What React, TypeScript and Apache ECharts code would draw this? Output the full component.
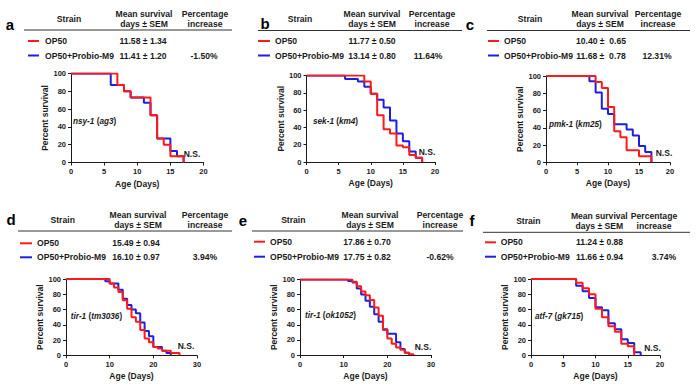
import React, { useEffect, useRef } from "react";
import * as echarts from "echarts";

// ---------- DATA ----------
const panelLetters = ["a", "b", "c", "d", "e", "f"];
const strainNames = ["OP50", "OP50+Probio-M9"];
const geneNames = ["nsy-1", "sek-1", "pmk-1", "tir-1", "tir-1", "atf-7"];
const alleleNames = ["ag3", "km4", "km25", "tm3036", "ok1052", "gk715"];
const meanOP50 = ["11.58 ± 1.34", "11.77 ± 0.50", "10.40 ±  0.65", "15.49 ± 0.94", "17.86 ± 0.70", "11.24 ± 0.88"];
const meanM9 = ["11.41 ± 1.20", "13.14 ± 0.80", "11.68 ±  0.78", "16.10 ± 0.97", "17.75 ± 0.82", "11.66 ± 0.94"];
const pctIncrease = ["-1.50%", "11.64%", "12.31%", "3.94%", "-0.62%", "3.74%"];
const significance = ["N.S.", "N.S.", "N.S.", "N.S.", "N.S.", "N.S."];
const xAxisMax = [20, 20, 20, 30, 30, 20];
const xAxisStep = [5, 5, 5, 10, 10, 5];
const yAxisMax = 100;
const yAxisStep = 20;

// Kaplan-Meier steps (day of change, percent survival)
const redA_day = [0, 7, 8, 9, 12, 13, 14, 15, 17];
const redA_pct = [100, 87, 80, 73, 53, 27, 20, 7, 0];
const blueA_day = [0, 6, 8, 9, 11, 12, 13, 15, 16, 17];
const blueA_pct = [100, 87, 80, 73, 67, 53, 27, 13, 7, 0];

const redB_day = [0, 9, 10, 11, 12, 13, 14, 15, 16, 17, 18];
const redB_pct = [100, 93, 79, 54, 38, 33, 19, 17, 8, 5, 0];
const blueB_day = [0, 6, 8, 9, 10, 11, 12, 13, 14, 15, 16, 17, 18];
const blueB_pct = [100, 96, 93, 87, 79, 72, 63, 48, 33, 24, 12, 5, 0];

const redC_day = [0, 8, 9, 10, 11, 12, 13, 15, 17];
const redC_pct = [100, 93, 86, 64, 36, 29, 14, 7, 0];
const blueC_day = [0, 7, 8, 9, 10, 11, 13, 14, 15, 16, 17];
const blueC_pct = [100, 94, 81, 62, 56, 44, 38, 31, 19, 12, 0];

const redD_day = [0, 10, 11, 12, 13, 14, 15, 16, 17, 18, 19, 20, 21, 22, 24, 26];
const redD_pct = [100, 94, 89, 83, 72, 61, 50, 44, 33, 22, 17, 11, 9, 6, 3, 0];
const blueD_day = [0, 9, 10, 12, 13, 14, 15, 16, 17, 18, 19, 20, 22, 23, 24];
const blueD_pct = [100, 97, 94, 86, 74, 66, 60, 55, 43, 32, 25, 11, 6, 3, 0];

const redE_day = [0, 12, 13, 14, 15, 16, 17, 18, 19, 20, 21, 22, 23, 24, 25, 26];
const redE_pct = [100, 97, 91, 84, 79, 73, 63, 52, 33, 22, 15, 10, 7, 3, 1, 0];
const blueE_day = [0, 11, 12, 13, 14, 15, 16, 17, 18, 19, 20, 22, 23, 24, 25];
const blueE_pct = [100, 98, 96, 88, 80, 72, 64, 54, 44, 34, 28, 17, 8, 3, 0];

const redF_day = [0, 7, 8, 9, 10, 11, 12, 13, 14, 15, 16];
const redF_pct = [100, 95, 88, 80, 61, 50, 38, 31, 15, 12, 0];
const blueF_day = [0, 7, 8, 9, 10, 11, 12, 13, 14, 15, 16, 17];
const blueF_pct = [100, 91, 84, 75, 63, 59, 42, 34, 21, 16, 4, 0];

const redDays = [redA_day, redB_day, redC_day, redD_day, redE_day, redF_day];
const redPcts = [redA_pct, redB_pct, redC_pct, redD_pct, redE_pct, redF_pct];
const blueDays = [blueA_day, blueB_day, blueC_day, blueD_day, blueE_day, blueF_day];
const bluePcts = [blueA_pct, blueB_pct, blueC_pct, blueD_pct, blueE_pct, blueF_pct];

// ---------- LAYOUT ----------
const RED = "#ff1a1a";
const BLUE = "#1f1fe0";
const FONT = "'Liberation Sans', Arial, sans-serif";
const TABLE_FS = 8.6;

type Lay = {
  grid: { left: number; top: number; width: number; height: number };
  letter: [number, number];
  strainX: number; meanX: number; pctX: number; hdrY: number;
  rule: [number, number, number];
  leg: [number, number]; nameX: number; row1: number; row2: number;
  valX: number; pctValX: number;
  gene: [number, number]; ns: [number, number]; yGap: number;
};

const LAYOUT: Lay[] = [
  { grid: { left: 71, top: 73.5, width: 132.5, height: 89 }, letter: [10, 24], strainX: 69, meanX: 144, pctX: 205, hdrY: 19, rule: [24, 232, 30], leg: [28, 39], nameX: 45, row1: 41, row2: 55.5, valX: 143, pctValX: 204, gene: [73, 121.5], ns: [192, 154], yGap: 21 },
  { grid: { left: 306.5, top: 75.5, width: 128.5, height: 86.5 }, letter: [265, 23], strainX: 300, meanX: 372, pctX: 432, hdrY: 19, rule: [258, 462, 30.5], leg: [258, 270], nameX: 275, row1: 41, row2: 55.5, valX: 372, pctValX: 428, gene: [313, 121.5], ns: [427, 152], yGap: 21 },
  { grid: { left: 546, top: 76, width: 124, height: 86.3 }, letter: [470, 24], strainX: 530, meanX: 600, pctX: 658, hdrY: 19, rule: [487, 690, 30.5], leg: [488, 499], nameX: 504, row1: 41, row2: 55.5, valX: 601, pctValX: 657, gene: [549, 124], ns: [664, 153], yGap: 21 },
  { grid: { left: 66, top: 279, width: 131, height: 76.3 }, letter: [11, 219], strainX: 62.7, meanX: 138, pctX: 205, hdrY: 220, rule: [18, 232, 231], leg: [20, 32], nameX: 37, row1: 243.3, row2: 257.3, valX: 136, pctValX: 205, gene: [70.7, 316.7], ns: [186, 345.7], yGap: 20 },
  { grid: { left: 300, top: 279.5, width: 131, height: 75.5 }, letter: [243, 220], strainX: 293.3, meanX: 370, pctX: 440, hdrY: 219.5, rule: [252, 463, 231], leg: [254, 265], nameX: 270, row1: 241.7, row2: 256.7, valX: 367, pctValX: 440, gene: [305, 315.7], ns: [423, 346.7], yGap: 20 },
  { grid: { left: 531, top: 279, width: 129, height: 76.3 }, letter: [472, 220], strainX: 528.3, meanX: 599.3, pctX: 654, hdrY: 220.5, rule: [483, 690, 232.3], leg: [485, 496], nameX: 500.7, row1: 242.3, row2: 256.7, valX: 599.5, pctValX: 664, gene: [535, 316.7], ns: [652.5, 347.7], yGap: 20 },
];

function txt(x: number, y: number, text: string, opts: any = {}) {
  return {
    type: "text",
    x,
    y,
    silent: true,
    style: {
      text,
      fill: "#1a1a1a",
      fontFamily: FONT,
      fontWeight: "bold",
      fontSize: TABLE_FS,
      align: "center",
      verticalAlign: "middle",
      ...opts,
    },
  };
}

function buildOption() {
  const grids: any[] = [];
  const xAxes: any[] = [];
  const yAxes: any[] = [];
  const series: any[] = [];
  const graphic: any[] = [];

  LAYOUT.forEach((L, i) => {
    grids.push({ ...L.grid, containLabel: false });
    const axisCommon = {
      axisLine: { show: true, lineStyle: { color: "#1a1a1a", width: 1 } },
      axisTick: { show: true, inside: false, length: 3, lineStyle: { color: "#1a1a1a", width: 1 } },
      splitLine: { show: false },
      nameTextStyle: { fontFamily: FONT, fontWeight: "bold", fontSize: 8.5, color: "#1a1a1a" },
      axisLabel: { fontFamily: FONT, fontWeight: "bold", fontSize: 7.5, color: "#1a1a1a" },
    };
    xAxes.push({
      ...axisCommon,
      gridIndex: i,
      type: "value",
      min: 0,
      max: xAxisMax[i],
      interval: xAxisStep[i],
      name: "Age (Days)",
      nameLocation: "middle",
      nameGap: 16.5,
      axisLabel: { ...axisCommon.axisLabel, margin: 5 },
    });
    yAxes.push({
      ...axisCommon,
      gridIndex: i,
      type: "value",
      min: 0,
      max: yAxisMax,
      interval: yAxisStep,
      name: "Percent survival",
      nameLocation: "middle",
      nameGap: L.yGap,
      axisLabel: { ...axisCommon.axisLabel, margin: 5 },
    });
    series.push({
      type: "line",
      name: strainNames[1],
      xAxisIndex: i,
      yAxisIndex: i,
      step: "end",
      symbol: "none",
      lineStyle: { color: BLUE, width: 2 },
      data: blueDays[i].map((d, k) => [d, bluePcts[i][k]]),
      z: 2,
    });
    series.push({
      type: "line",
      name: strainNames[0],
      xAxisIndex: i,
      yAxisIndex: i,
      step: "end",
      symbol: "none",
      lineStyle: { color: RED, width: 2 },
      data: redDays[i].map((d, k) => [d, redPcts[i][k]]),
      z: 3,
    });

    // table
    graphic.push(txt(L.letter[0], L.letter[1], panelLetters[i], { fontSize: 15, fill: "#000" }));
    graphic.push(txt(L.strainX, L.hdrY, "Strain"));
    graphic.push(txt(L.meanX, L.hdrY, "Mean survival\ndays ± SEM", { lineHeight: 10 }));
    graphic.push(txt(L.pctX, L.hdrY, "Percentage\nincrease", { lineHeight: 10 }));
    graphic.push({
      type: "line",
      silent: true,
      shape: { x1: L.rule[0], y1: L.rule[2], x2: L.rule[1], y2: L.rule[2] },
      style: { stroke: "#333", lineWidth: 1 },
    });
    graphic.push({
      type: "line",
      silent: true,
      shape: { x1: L.leg[0], y1: L.row1, x2: L.leg[1], y2: L.row1 },
      style: { stroke: RED, lineWidth: 2 },
    });
    graphic.push({
      type: "line",
      silent: true,
      shape: { x1: L.leg[0], y1: L.row2, x2: L.leg[1], y2: L.row2 },
      style: { stroke: BLUE, lineWidth: 2 },
    });
    graphic.push(txt(L.nameX, L.row1, strainNames[0], { align: "left" }));
    graphic.push(txt(L.nameX, L.row2, strainNames[1], { align: "left" }));
    graphic.push(txt(L.valX, L.row1, meanOP50[i]));
    graphic.push(txt(L.valX, L.row2, meanM9[i]));
    graphic.push(txt(L.pctValX, L.row2, pctIncrease[i]));
    // gene label
    graphic.push({
      type: "text",
      x: L.gene[0],
      y: L.gene[1],
      silent: true,
      style: {
        text: `{i|${geneNames[i]} }{n|(}{i|${alleleNames[i]}}{n|)}`,
        align: "left",
        verticalAlign: "middle",
        fontFamily: FONT,
        fontSize: 8.2,
        fontWeight: "bold",
        fill: "#1a1a1a",
        rich: {
          i: { fontFamily: FONT, fontSize: 8.2, fontWeight: "bold", fontStyle: "italic", fill: "#1a1a1a" },
          n: { fontFamily: FONT, fontSize: 8.2, fontWeight: "bold", fill: "#1a1a1a" },
        },
      },
    });
    graphic.push(txt(L.ns[0], L.ns[1], significance[i], { fontSize: 8.5 }));
  });

  return {
    animation: false,
    backgroundColor: "#ffffff",
    grid: grids,
    xAxis: xAxes,
    yAxis: yAxes,
    series,
    graphic,
  };
}

export default function App() {
  const ref = useRef<HTMLDivElement>(null);
  useEffect(() => {
    if (!ref.current) return;
    const chart = echarts.init(ref.current, undefined, { renderer: "svg" });
    chart.setOption(buildOption() as any);
    return () => chart.dispose();
  }, []);
  return (
    <div
      ref={ref}
      style={{ position: "fixed", left: 0, top: 0, width: 700, height: 391, background: "#fff" }}
    />
  );
}
